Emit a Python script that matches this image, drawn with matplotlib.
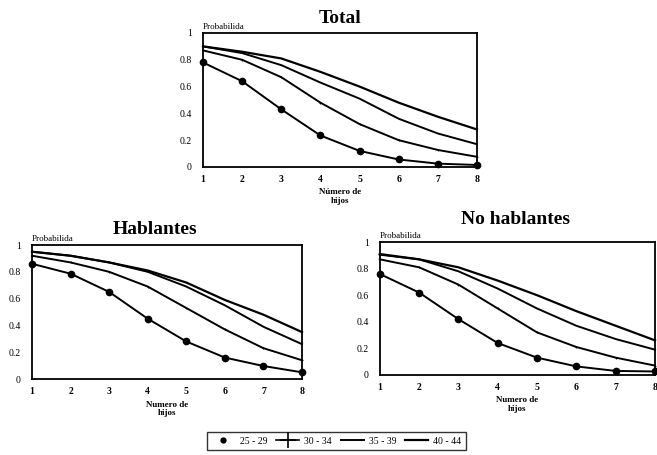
import matplotlib.pyplot as plt
from matplotlib.lines import Line2D

plt.rcParams['font.family'] = ['Liberation Serif', 'DejaVu Serif']

hijos = [1, 2, 3, 4, 5, 6, 7, 8]
grupos = ['25 - 29', '30 - 34', '35 - 39', '40 - 44']
y_ticks = [0, 0.2, 0.4, 0.6, 0.8, 1]
y_ticklabels = ['0', '0.2', '0.4', '0.6', '0.8', '1']

# probability of having at least n children, by age group
total_25_29 = [0.78, 0.64, 0.43, 0.235, 0.12, 0.056, 0.025, 0.015]
total_30_34 = [0.87, 0.80, 0.67, 0.48, 0.32, 0.20, 0.127, 0.076]
total_35_39 = [0.90, 0.85, 0.76, 0.63, 0.51, 0.36, 0.25, 0.17]
total_40_44 = [0.90, 0.86, 0.81, 0.71, 0.60, 0.48, 0.375, 0.28]

habl_25_29 = [0.86, 0.786, 0.65, 0.45, 0.28, 0.16, 0.097, 0.05]
habl_30_34 = [0.92, 0.87, 0.80, 0.69, 0.53, 0.37, 0.23, 0.14]
habl_35_39 = [0.95, 0.92, 0.87, 0.80, 0.69, 0.55, 0.39, 0.26]
habl_40_44 = [0.95, 0.92, 0.87, 0.81, 0.72, 0.59, 0.48, 0.35]

nohabl_25_29 = [0.76, 0.62, 0.42, 0.24, 0.13, 0.064, 0.03, 0.026]
nohabl_30_34 = [0.87, 0.81, 0.68, 0.50, 0.32, 0.21, 0.13, 0.07]
nohabl_35_39 = [0.905, 0.87, 0.78, 0.65, 0.50, 0.37, 0.27, 0.19]
nohabl_40_44 = [0.91, 0.87, 0.81, 0.71, 0.60, 0.48, 0.37, 0.26]

fig = plt.figure(figsize=(6.57, 4.55), dpi=100)


def panel(rect, title, title_x, title_gap, xlabel, series):
    ax = fig.add_axes(rect)
    s1, s2, s3, s4 = series
    ax.plot(hijos, s1, color='black', lw=1.4, marker='o', ms=4.5, clip_on=False)
    ax.plot(hijos, s2, color='black', lw=1.4, marker='+', ms=2, mew=0.6, clip_on=False)
    ax.plot(hijos, s3, color='black', lw=1.4, clip_on=False)
    ax.plot(hijos, s4, color='black', lw=1.6, clip_on=False)
    ax.set_xlim(1, 8)
    ax.set_ylim(0, 1)
    ax.set_xticks(hijos)
    ax.set_yticks(y_ticks)
    ax.set_yticklabels(y_ticklabels)
    ax.tick_params(axis='y', length=0, labelsize=7, pad=8)
    ax.tick_params(axis='x', length=0, labelsize=7, pad=6)
    for lbl in ax.get_xticklabels():
        lbl.set_fontweight('bold')
    for sp in ax.spines.values():
        sp.set_linewidth(1.3)
    ax.set_xlabel(xlabel, fontsize=6.5, fontweight='bold', labelpad=3,
                  linespacing=1.1)
    ax.text(0, 1.015, 'Probabilida', transform=ax.transAxes, fontsize=6.5,
            ha='left', va='bottom')
    fig.text(title_x, rect[1] + rect[3] + title_gap, title, fontsize=14,
             fontweight='bold', ha='center', va='bottom')
    return ax


panel([0.309, 0.633, 0.417, 0.2945], 'Total', 0.517, 0.014, 'Número de\nhijos',
      [total_25_29, total_30_34, total_35_39, total_40_44])
panel([0.0487, 0.167, 0.411, 0.2945], 'Hablantes', 0.236, 0.016, 'Numero de\nhijos',
      [habl_25_29, habl_30_34, habl_35_39, habl_40_44])
panel([0.578, 0.176, 0.419, 0.292], 'No hablantes', 0.784, 0.03, 'Numero de\nhijos',
      [nohabl_25_29, nohabl_30_34, nohabl_35_39, nohabl_40_44])

handles = [
    Line2D([], [], color='black', marker='o', ms=3.5, lw=0),
    Line2D([], [], color='black', marker='+', ms=11, mew=1.2, lw=1.2),
    Line2D([], [], color='black', lw=1.4),
    Line2D([], [], color='black', lw=1.6),
]
leg = fig.legend(handles, grupos, loc='lower center', bbox_to_anchor=(0.512, 0.0),
                 ncol=4, fontsize=7, frameon=True, fancybox=False,
                 edgecolor='black', handlelength=2.4, handletextpad=0.5,
                 columnspacing=0.9, borderpad=0.45)
leg.get_frame().set_linewidth(1.0)

fig.savefig('out.png', dpi=100)
